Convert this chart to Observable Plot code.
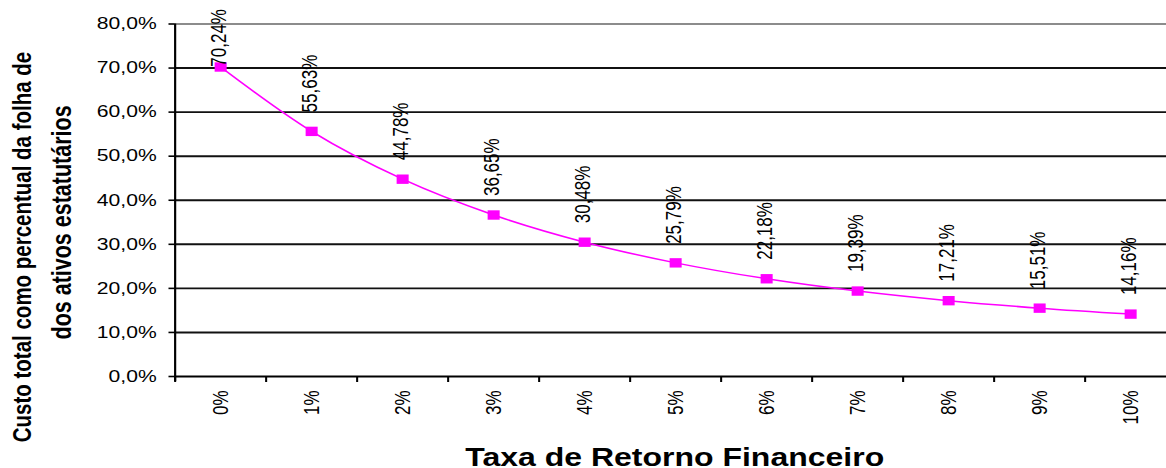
<!DOCTYPE html>
<html>
<head>
<meta charset="utf-8">
<script src="https://cdn.jsdelivr.net/npm/d3@7"></script>
<script src="https://cdn.jsdelivr.net/npm/@observablehq/plot@0.6"></script>
<style>
  html, body { margin: 0; padding: 0; background: white; overflow: hidden; }
</style>
</head>
<body>
<div id="chart"></div>
<script>
// ---- data ----
const categories = ["0%", "1%", "2%", "3%", "4%", "5%", "6%", "7%", "8%", "9%", "10%"];
const values = [70.24, 55.63, 44.78, 36.65, 30.48, 25.79, 22.18, 19.39, 17.21, 15.51, 14.16];
const yTicks = [0, 10, 20, 30, 40, 50, 60, 70, 80];
const xTitle = "Taxa de Retorno Financeiro";
const yTitle1 = "Custo total como percentual da folha de salários";
const yTitle2 = "dos ativos estatutários";

// ---- layout ----
const W = 1166, H = 468;
const S = 1.28;               // horizontal stretch of the original picture
const PW = W / S;
const ml = 174.5 / S;
const bandW = 91 / S;
const mt = 23.5, mb = 92;
const font = "Liberation Sans, Arial, Helvetica, sans-serif";

const data = categories.map((c, i) => ({i, cat: c, v: values[i],
  lab: values[i].toFixed(2).replace(".", ",") + "%"}));
const boundaries = categories.map((c, i) => i - 0.5).concat([categories.length - 0.5]);
const fmtY = d => d.toFixed(1).replace(".", ",") + "%";

const svg = Plot.plot({
  width: PW,
  height: H,
  marginLeft: ml,
  marginRight: 0,
  marginTop: mt,
  marginBottom: mb,
  style: {fontFamily: font, color: "black", background: "white"},
  x: {type: "linear", domain: [-0.5, categories.length - 0.5], range: [ml, ml + categories.length * bandW], label: null},
  y: {domain: [0, 80], label: null},
  marks: [
    // gridlines
    Plot.ruleY(yTicks.filter(d => d > 0 && d < 80), {stroke: "#111", strokeWidth: 1.9}),
    Plot.ruleY([80], {stroke: "#8c8c8c", strokeWidth: 2.2}),
    // axes lines
    Plot.ruleY([0], {stroke: "black", strokeWidth: 2.2}),
    Plot.ruleX([-0.5], {stroke: "black", strokeWidth: 1.7, insetBottom: -5}),
    Plot.axisX({ticks: boundaries, tickSize: 6, tickFormat: () => "", strokeWidth: 1.6, stroke: "black", label: null}),
    Plot.axisY({ticks: yTicks, tickSize: 4.7, tickPadding: 9.7, tickFormat: fmtY, fontSize: 16.5, strokeWidth: 1.6, stroke: "black", label: null}),
    // x tick labels
    Plot.text(data, {x: "i", text: "cat", frameAnchor: "bottom", dy: 14, rotate: -90,
      textAnchor: "end", lineAnchor: "middle", fontSize: 17, fill: "black"}),
    // series
    Plot.line(data, {x: "i", y: "v", stroke: "#FF00FF", strokeWidth: 1.5, curve: "monotone-x"}),
    Plot.dot(data, {x: "i", y: "v", symbol: "square", r: 5.3, fill: "#FF00FF", stroke: "none"}),
    // value labels (kept inside the chart area at the top)
    Plot.text(data, {x: "i", y: d => Math.min(d.v, 66), text: "lab", dy: -19, dx: -1, rotate: -90,
      textAnchor: "start", lineAnchor: "middle", fontSize: 17, fill: "black"}),
    // titles
    Plot.text([xTitle], {frameAnchor: "bottom", dx: 3, dy: 89.5, lineAnchor: "bottom",
      fontSize: 25, fontWeight: "bold", fill: "black"}),
    Plot.text([yTitle1], {frameAnchor: "bottom-left", dx: 17.2 - ml, dy: 441.7 - (H - mb), rotate: -90,
      textAnchor: "start", lineAnchor: "middle", fontSize: 20.5, fontWeight: "bold", fill: "black"}),
    Plot.text([yTitle2], {frameAnchor: "bottom-left", dx: 48.4 - ml, dy: 339 - (H - mb), rotate: -90,
      textAnchor: "start", lineAnchor: "middle", fontSize: 21.5, fontWeight: "bold", fill: "black"})
  ]
});

// stretch horizontally like the original picture
svg.setAttribute("preserveAspectRatio", "none");
svg.setAttribute("width", W);
svg.setAttribute("height", H);
svg.style.width = W + "px";
svg.style.height = H + "px";
svg.style.maxWidth = "none";

// clip the first y-title line like the original
const ns = "http://www.w3.org/2000/svg";
const defs = document.createElementNS(ns, "defs");
const cp = document.createElementNS(ns, "clipPath");
cp.setAttribute("id", "ytitle-clip");
const rect = document.createElementNS(ns, "rect");
rect.setAttribute("x", 0); rect.setAttribute("y", 47);
rect.setAttribute("width", PW); rect.setAttribute("height", H - 47);
cp.appendChild(rect); defs.appendChild(cp); svg.insertBefore(defs, svg.firstChild);
svg.querySelectorAll("text").forEach(t => {
  if (t.textContent === yTitle1) {
    const g = t.parentNode;
    const wrap = document.createElementNS(ns, "g");
    wrap.setAttribute("clip-path", "url(#ytitle-clip)");
    g.parentNode.insertBefore(wrap, g);
    wrap.appendChild(g);
  }
});

document.getElementById("chart").appendChild(svg);
</script>
</body>
</html>
